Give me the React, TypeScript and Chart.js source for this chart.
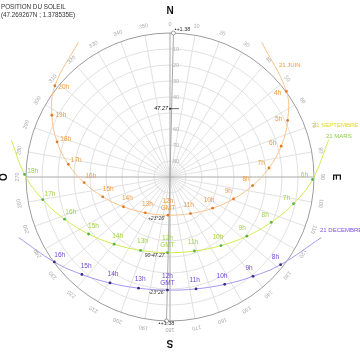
import React, { useEffect, useRef } from "react";
import { Chart, registerables } from "chart.js";

Chart.register(...registerables);

const titleLines = ["POSITION DU SOLEIL", "(47.269267N ; 1.378535E)"];

// 21 June: hour labels, azimuth (deg from N, clockwise), altitude (deg)
const junHours = ["", "4h", "5h", "6h", "7h", "8h", "9h", "10h", "11h", "12h", "13h", "14h", "15h", "16h", "17h", "18h", "19h", "20h", ""];
const junAzimuth = [34.2, 53.7, 64.3, 74.5, 84.8, 95.9, 109.0, 126.2, 150.7, 183.1, 214.5, 237.4, 253.6, 266.3, 277.1, 287.3, 297.6, 308.4, 325.8];
const junAltitude = [-11.9, -0.3, 8.4, 17.9, 27.9, 38.1, 48.0, 57.0, 63.8, 66.1, 62.8, 55.5, 46.2, 36.2, 26.0, 16.1, 6.7, -1.8, -11.9];

// 21 March / 21 September
const eqHours = ["", "6h", "7h", "8h", "9h", "10h", "11h", "12h", "13h", "14h", "15h", "16h", "17h", "18h", ""];
const eqAzimuth = [76.8, 91.0, 102.2, 114.1, 127.6, 143.4, 161.7, 181.9, 201.8, 219.7, 235.0, 248.2, 259.9, 271.0, 283.2];
const eqAltitude = [-11.9, 0.9, 11.0, 20.7, 29.4, 36.6, 41.3, 42.7, 40.6, 35.4, 27.9, 19.0, 9.2, -0.9, -11.9];

// 21 December
const decHours = ["", "8h", "9h", "10h", "11h", "12h", "13h", "14h", "15h", "16h", ""];
const decAzimuth = [111.8, 128.4, 140.1, 153.0, 166.9, 181.3, 195.8, 209.5, 222.1, 233.7, 248.2];
const decAltitude = [-11.9, 1.8, 9.1, 14.7, 18.2, 19.3, 17.8, 13.9, 7.9, 0.3, -11.9];

const ringAltitudes = [10, 20, 30, 40, 50, 60, 70, 80];
const altitudeTickLabels = ["10", "20", "30", "40", "", "60", "70", "80"];
const azimuthTicks = [0, 10, 20, 30, 40, 50, 60, 70, 80, 90, 100, 110, 120, 130, 140, 150, 160, 170, 180, 190, 200, 210, 220, 230, 240, 250, 260, 270, 280, 290, 300, 310, 320, 330, 340, 350];
const cardinalLabels = ["N", "E", "S", "O"];
const cardinalAzimuths = [0, 90, 180, 270];

const poleAltitude = 47.27;
const poleLabel = "47.27";
const meridianShift = 1.38;
const meridianLabel = "+1.38";
const noonNotes = ["+23°26'", "90-47.27", "-23°26'"];
const seriesNames = ["21 JUIN", "21 SEPTEMBRE", "21 MARS", "21 DECEMBRE"];

const junColors = { line: "#f7c38c", point: "#e07a22", text: "#ef9a3c" };
const eqColors = { line: "#d2ec4a", point: "#56b33e", text: "#9fd040" };
const decColors = { line: "#a996f0", point: "#3b2a86", text: "#7048d0" };

const rad = (d: number) => (d * Math.PI) / 180;
const toXY = (az: number, alt: number) => {
  const r = 90 - alt;
  return { x: r * Math.sin(rad(az)), y: r * Math.cos(rad(az)) };
};
const buildPoints = (az: number[], alt: number[]) => az.map((a, i) => toXY(a, alt[i]));

const FONT = '"Liberation Sans", "DejaVu Sans", sans-serif';

const polarPlugin = {
  id: "polarSun",
  beforeDatasetsDraw(chart: any) {
    const { ctx } = chart;
    const xs = chart.scales.x;
    const ys = chart.scales.y;
    const P = (az: number, zen: number) => ({
      x: xs.getPixelForValue(zen * Math.sin(rad(az))),
      y: ys.getPixelForValue(zen * Math.cos(rad(az))),
    });
    const cx = xs.getPixelForValue(0);
    const cy = ys.getPixelForValue(0);
    const k = xs.getPixelForValue(1) - cx;
    const line = (a: any, b: any) => {
      ctx.beginPath();
      ctx.moveTo(a.x, a.y);
      ctx.lineTo(b.x, b.y);
      ctx.stroke();
    };
    ctx.save();
    ctx.strokeStyle = "#dedede";
    ctx.lineWidth = 0.9;
    ringAltitudes.forEach((alt) => {
      ctx.beginPath();
      ctx.arc(cx, cy, (90 - alt) * k, 0, Math.PI * 2);
      ctx.stroke();
    });
    azimuthTicks.forEach((az) => {
      if (az % 90 === 0) return;
      line({ x: cx, y: cy }, P(az, 90));
    });
    ctx.strokeStyle = "#a9a9a9";
    ctx.lineWidth = 1;
    line(P(0, 90), P(180, 90));
    line(P(90, 90), P(270, 90));
    line(P(meridianShift, 90), P(180 + meridianShift, 90));
    ctx.strokeStyle = "#9c9c9c";
    ctx.beginPath();
    ctx.arc(cx, cy, 90 * k, 0, Math.PI * 2);
    ctx.stroke();
    ctx.restore();
  },
  afterDatasetsDraw(chart: any) {
    const { ctx } = chart;
    const xs = chart.scales.x;
    const ys = chart.scales.y;
    const P = (az: number, zen: number) => ({
      x: xs.getPixelForValue(zen * Math.sin(rad(az))),
      y: ys.getPixelForValue(zen * Math.cos(rad(az))),
    });
    const cx = xs.getPixelForValue(0);
    const cy = ys.getPixelForValue(0);
    const k = xs.getPixelForValue(1) - cx;
    ctx.save();

    // altitude labels on the north axis
    ctx.fillStyle = "#b0b0b0";
    ctx.font = `5.5px ${FONT}`;
    ctx.textAlign = "left";
    ctx.textBaseline = "middle";
    ringAltitudes.forEach((alt, i) => {
      if (!altitudeTickLabels[i]) return;
      ctx.fillText(altitudeTickLabels[i], cx + 3, cy - (90 - alt) * k);
    });

    // azimuth labels (rotated)
    ctx.fillStyle = "#a8a8a8";
    ctx.textAlign = "center";
    azimuthTicks.forEach((az) => {
      const p = P(az, 95.6);
      ctx.save();
      ctx.translate(p.x, p.y);
      ctx.rotate(rad(az));
      ctx.fillText(String(az), 0, 0);
      ctx.restore();
    });

    // cardinal letters
    ctx.fillStyle = "#111";
    ctx.font = `bold 10px ${FONT}`;
    cardinalLabels.forEach((lab, i) => {
      const az = cardinalAzimuths[i];
      const p = P(az, 103.5);
      ctx.save();
      ctx.translate(p.x, p.y);
      ctx.rotate(rad(az));
      ctx.fillText(lab, 0, 0);
      ctx.restore();
    });

    // meridian shift markers
    const top = P(meridianShift, 90);
    const bot = P(180 + meridianShift, 90);
    ctx.strokeStyle = "#888";
    ctx.fillStyle = "#fff";
    ctx.lineWidth = 0.8;
    [top, bot].forEach((p) => {
      ctx.beginPath();
      ctx.arc(p.x, p.y, 2, 0, Math.PI * 2);
      ctx.fill();
      ctx.stroke();
    });
    ctx.fillStyle = "#333";
    ctx.font = `5.5px ${FONT}`;
    ctx.textAlign = "left";
    ctx.fillText("•" + meridianLabel, top.x + 1, top.y - 4);
    ctx.fillText("•" + meridianLabel, bot.x - 8, bot.y + 3);

    // pole marker
    const pole = P(0, 90 - poleAltitude);
    ctx.strokeStyle = "#444";
    ctx.beginPath();
    ctx.moveTo(pole.x, pole.y);
    ctx.lineTo(pole.x + 9, pole.y);
    ctx.stroke();
    ctx.fillStyle = "#222";
    ctx.beginPath();
    ctx.arc(pole.x, pole.y, 1, 0, Math.PI * 2);
    ctx.fill();
    ctx.font = `italic 5.5px ${FONT}`;
    ctx.textAlign = "right";
    ctx.fillText(poleLabel, pole.x - 2, pole.y);

    // hour labels
    const hourSets = [
      { labels: junHours, colors: junColors },
      { labels: eqHours, colors: eqColors },
      { labels: decHours, colors: decColors },
    ];
    ctx.font = `6.5px ${FONT}`;
    ctx.textAlign = "center";
    ctx.textBaseline = "middle";
    hourSets.forEach((set, di) => {
      const meta = chart.getDatasetMeta(di);
      ctx.fillStyle = set.colors.text;
      set.labels.forEach((lab, j) => {
        if (!lab) return;
        const pt = meta.data[j];
        if (lab === "12h") {
          ctx.fillText("12h", pt.x, pt.y - 14);
          ctx.fillText("GMT", pt.x, pt.y - 7);
          return;
        }
        const dx = pole.x - pt.x;
        const dy = pole.y - pt.y;
        const d = Math.hypot(dx, dy) || 1;
        ctx.fillText(lab, pt.x + (dx / d) * 9, pt.y + (dy / d) * 9);
      });
    });

    // noon notes
    ctx.fillStyle = "#333";
    ctx.font = `italic 5px ${FONT}`;
    ctx.textAlign = "right";
    const noonIdx = [junHours.indexOf("12h"), eqHours.indexOf("12h"), decHours.indexOf("12h")];
    noonIdx.forEach((j, di) => {
      const pt = chart.getDatasetMeta(di).data[j];
      ctx.fillText(noonNotes[di], pt.x - 3, pt.y + 3);
    });

    // series names
    ctx.font = `6px ${FONT}`;
    ctx.textAlign = "left";
    ctx.fillStyle = junColors.text;
    ctx.fillText(seriesNames[0], 279, 65);
    ctx.fillStyle = "#e0d82c";
    ctx.fillText(seriesNames[1], 313, 125);
    ctx.fillStyle = "#8ccf3e";
    ctx.fillText(seriesNames[2], 326, 136);
    ctx.fillStyle = "#7b4fe0";
    ctx.fillText(seriesNames[3], 320, 230);

    // title
    ctx.fillStyle = "#333";
    ctx.font = `6.3px ${FONT}`;
    ctx.fillText(titleLines[0], 1, 7);
    ctx.fillText(titleLines[1], 1, 15);

    ctx.restore();
  },
};

const curve = (az: number[], alt: number[], hours: string[], c: any) => ({
  data: buildPoints(az, alt),
  showLine: true,
  borderColor: c.line,
  borderWidth: 1,
  tension: 0.4,
  pointRadius: hours.map((h) => (h ? 1.4 : 0)),
  pointBackgroundColor: c.point,
  pointBorderColor: c.point,
  pointBorderWidth: 0,
  fill: false,
});

export default function App() {
  const ref = useRef<HTMLCanvasElement | null>(null);
  useEffect(() => {
    if (!ref.current) return;
    const chart = new Chart(ref.current, {
      type: "scatter",
      data: {
        datasets: [
          curve(junAzimuth, junAltitude, junHours, junColors),
          curve(eqAzimuth, eqAltitude, eqHours, eqColors),
          curve(decAzimuth, decAltitude, decHours, decColors),
        ] as any,
      },
      options: {
        responsive: false,
        animation: false,
        devicePixelRatio: 1,
        layout: { padding: 0 },
        plugins: { legend: { display: false }, tooltip: { enabled: false } },
        scales: {
          x: { type: "linear", min: -106.25, max: 118.75, display: false },
          y: { type: "linear", min: -114.375, max: 110.625, display: false },
        },
      },
      plugins: [polarPlugin],
    });
    return () => chart.destroy();
  }, []);
  return (
    <div style={{ position: "fixed", left: 0, top: 0, width: 360, height: 360, background: "#fff" }}>
      <canvas ref={ref} width={360} height={360} style={{ display: "block" }} />
    </div>
  );
}
